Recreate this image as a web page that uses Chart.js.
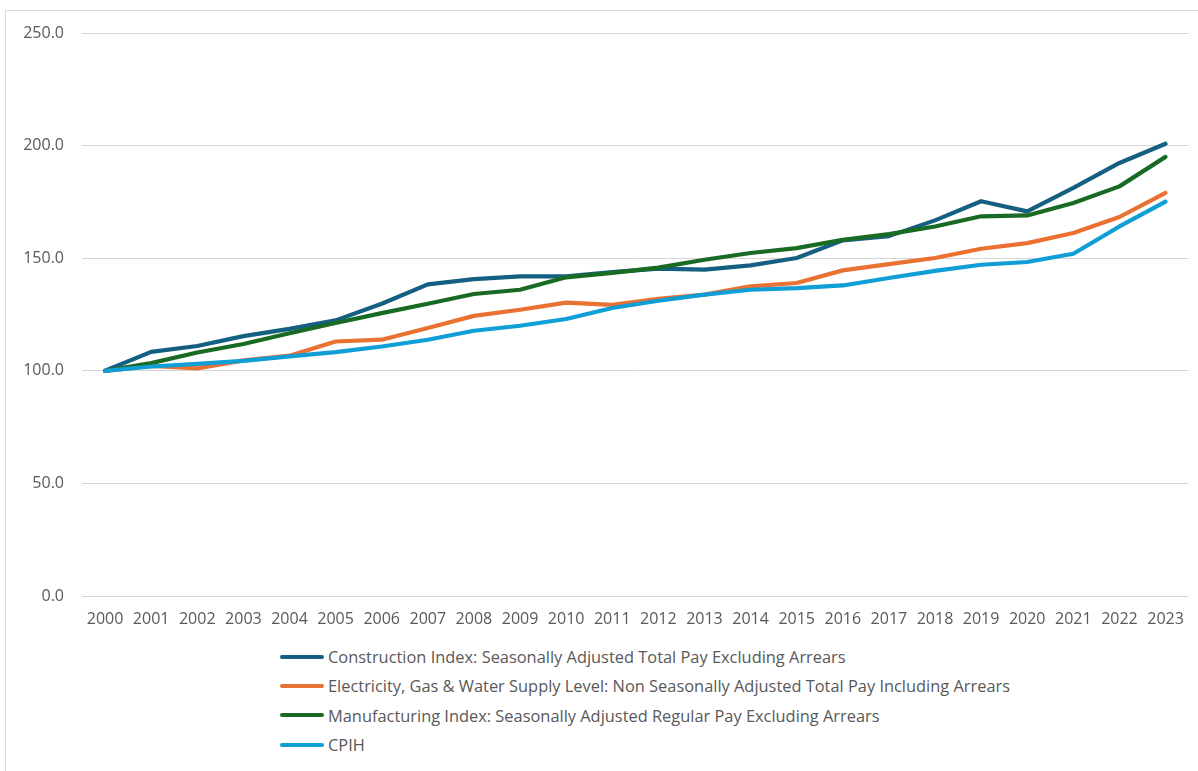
<!DOCTYPE html>
<html>
<head>
<meta charset="utf-8">
<script src="https://cdn.jsdelivr.net/npm/chart.js@4.4.1/dist/chart.umd.min.js"></script>
<style>
  html, body { margin: 0; padding: 0; background: #ffffff; }
  #page { position: relative; width: 1198px; height: 771px; overflow: hidden; background: #fff; }
  #frame { position: absolute; left: 5px; top: 10px; width: 1300px; height: 900px; border: 1px solid #d9d9d9; box-sizing: border-box; }
  #chartBox { position: absolute; left: 0; top: 0; width: 1198px; height: 640px; }
  #legend { position: absolute; left: 280px; top: 642px; font-family: "Open Sans", sans-serif; font-size: 16.4px; color: #595959; }
  .item { display: flex; align-items: center; height: 29.3px; white-space: nowrap; }
  .swatch { width: 44px; height: 4px; border-radius: 2px; margin-right: 4px; }
</style>
</head>
<body>
<div id="page">
  <div id="frame"></div>
  <div id="chartBox"><canvas id="c" width="1198" height="640"></canvas></div>
  <div id="legend"></div>
</div>
<script>
const years = ["2000","2001","2002","2003","2004","2005","2006","2007","2008","2009","2010","2011","2012","2013","2014","2015","2016","2017","2018","2019","2020","2021","2022","2023"];
const construction = [100, 108.4, 111.0, 115.4, 118.6, 122.4, 129.8, 138.4, 140.7, 141.9, 141.9, 143.8, 145.4, 144.9, 146.8, 150.1, 157.9, 159.8, 166.8, 175.3, 170.8, 181.2, 192.3, 200.8];
const electricity = [100, 102.2, 101.1, 104.6, 106.7, 113.0, 113.8, 119.0, 124.4, 127.1, 130.3, 129.3, 132.0, 133.8, 137.5, 139.0, 144.6, 147.4, 150.1, 154.2, 156.7, 161.2, 168.3, 179.0];
const manufacturing = [100, 103.4, 108.1, 111.9, 116.7, 121.2, 125.6, 129.8, 134.1, 136.0, 141.5, 143.5, 145.8, 149.3, 152.3, 154.5, 158.2, 160.7, 164.1, 168.6, 169.0, 174.5, 181.9, 195.0];
const cpih = [100, 101.9, 103.1, 104.4, 106.4, 108.3, 110.8, 113.8, 117.8, 120.0, 123.0, 127.9, 131.1, 133.8, 136.0, 136.7, 137.9, 141.2, 144.4, 147.1, 148.3, 152.0, 164.1, 175.1];
const seriesNames = [
  "Construction Index: Seasonally Adjusted Total Pay Excluding Arrears",
  "Electricity, Gas & Water Supply Level: Non Seasonally Adjusted Total Pay Including Arrears",
  "Manufacturing Index: Seasonally Adjusted Regular Pay Excluding Arrears",
  "CPIH"
];
const yTicks = [0, 50, 100, 150, 200, 250];

const colors = ["#156082", "#E97132", "#196B24", "#0F9ED5"];
const seriesData = [construction, electricity, manufacturing, cpih];

const datasets = seriesData.map((d, i) => ({
  label: seriesNames[i],
  data: d,
  borderColor: colors[i],
  backgroundColor: colors[i],
  borderWidth: 4.2,
  pointRadius: 0,
  pointHoverRadius: 0,
  tension: 0,
  fill: false,
  borderCapStyle: 'round',
  borderJoinStyle: 'round',
  order: seriesData.length - i
}));

const font = { family: "'Open Sans', sans-serif", size: 16 };

const chart = new Chart(document.getElementById('c'), {
  type: 'line',
  data: { labels: years, datasets },
  options: {
    responsive: false,
    animation: false,
    layout: { padding: { top: 33, right: 8, bottom: 0, left: 0 } },
    plugins: { legend: { display: false }, tooltip: { enabled: false } },
    scales: {
      x: {
        offset: true,
        grid: { display: false, drawTicks: false },
        border: { display: false },
        ticks: { color: '#595959', font, padding: 14, maxRotation: 0, autoSkip: false },
        afterFit: (s) => { s.height = 44; }
      },
      y: {
        min: 0, max: 250,
        afterBuildTicks: (s) => { s.ticks = yTicks.map(v => ({ value: v })); },
        grid: { color: '#d6d6d6', lineWidth: 1, drawTicks: false },
        border: { display: false },
        ticks: { color: '#595959', font, padding: 18, callback: (v) => Number(v).toFixed(1) },
        afterFit: (s) => { s.width = 82; }
      }
    }
  }
});

const legend = document.getElementById('legend');
chart.data.datasets.forEach((ds) => {
  const row = document.createElement('div');
  row.className = 'item';
  const sw = document.createElement('span');
  sw.className = 'swatch';
  sw.style.background = ds.borderColor;
  const tx = document.createElement('span');
  tx.textContent = ds.label;
  row.appendChild(sw);
  row.appendChild(tx);
  legend.appendChild(row);
});
</script>
</body>
</html>
